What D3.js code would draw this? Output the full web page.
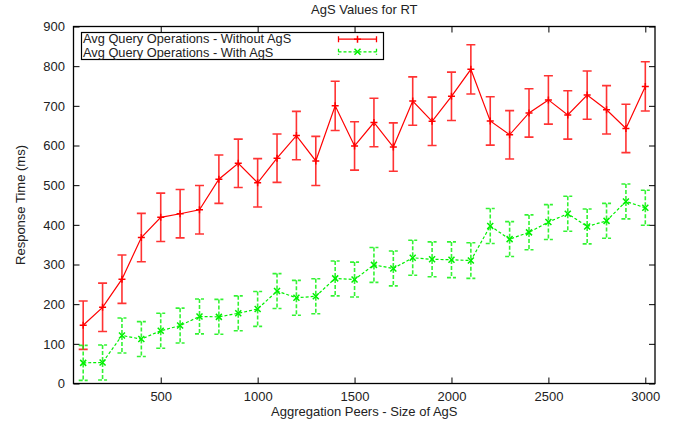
<!DOCTYPE html>
<html>
<head>
<meta charset="utf-8">
<script src="https://cdn.jsdelivr.net/npm/d3@7"></script>
<style>
  body { margin: 0; background: #fff; }
  svg text { font-family: "Liberation Sans", Arial, Helvetica, sans-serif; fill: #222; }
</style>
</head>
<body>
<svg id="chart" width="675" height="424"></svg>
<script>
// Data
const peers = [100, 200, 300, 400, 500, 600, 700, 800, 900, 1000,
               1100, 1200, 1300, 1400, 1500, 1600, 1700, 1800, 1900, 2000,
               2100, 2200, 2300, 2400, 2500, 2600, 2700, 2800, 2900, 3000];

const withoutAgs = [147, 192, 263, 368, 419, 428, 438, 515, 555, 506,
                    568, 625, 561, 700, 599, 658, 596, 712, 661, 724,
                    792, 662, 627, 682, 715, 677, 727, 690, 643, 749];
const withoutAgsErr = [61, 61, 61, 61, 61, 61, 61, 61, 61, 61,
                       61, 61, 62, 62, 61, 61, 61, 61, 61, 61,
                       62, 61, 61, 61, 61, 61, 61, 61, 61, 62];

const withAgs = [52, 53, 121, 112, 133, 146, 169, 168, 177, 188,
                 233, 216, 220, 265, 262, 299, 290, 317, 313, 312,
                 310, 397, 364, 381, 407, 428, 396, 410, 459, 443];
const withAgsErr = [44, 44, 44, 44, 44, 44, 44, 44, 44, 44,
                    44, 44, 44, 44, 44, 44, 44, 44, 44, 45,
                    45, 44, 44, 44, 44, 44, 44, 44, 44, 44];

const xTicks = [500, 1000, 1500, 2000, 2500, 3000];
const yTicks = [0, 100, 200, 300, 400, 500, 600, 700, 800, 900];

const series = [
    { name: "Avg Query Operations - Without AgS", values: withoutAgs, err: withoutAgsErr,
      color: "#ff0000", dash: null, marker: "plus" },
    { name: "Avg Query Operations - With AgS", values: withAgs, err: withAgsErr,
      color: "#00f000", dash: "3,2", marker: "cross" }
];

// Layout
const plot = { left: 73.5, top: 26.5, right: 655, bottom: 383.5 };
const fontSize = 13;
const svg = d3.select("#chart");

const x = d3.scaleLinear().domain([50, 3050]).range([plot.left, plot.right]);
const y = d3.scaleLinear().domain([0, 900]).range([plot.bottom, plot.top]);

// Title
svg.append("text")
    .attr("x", (plot.left + plot.right) / 2)
    .attr("y", 13.5)
    .attr("text-anchor", "middle")
    .attr("font-size", fontSize)
    .text("AgS Values for RT");

// Axes with inward ticks, mirrored on top and right
const tickLen = 6;
svg.append("g")
    .attr("transform", `translate(0,${plot.bottom})`)
    .call(d3.axisBottom(x).tickValues(xTicks).tickFormat(d3.format("d"))
        .tickSizeInner(-tickLen).tickSizeOuter(0).tickPadding(8))
    .call(g => g.select(".domain").remove())
    .call(g => g.selectAll("text").attr("font-size", fontSize).attr("fill", "#222"));

svg.append("g")
    .attr("transform", `translate(0,${plot.top})`)
    .call(d3.axisTop(x).tickValues(xTicks).tickSizeInner(-tickLen).tickSizeOuter(0).tickFormat(""))
    .call(g => g.select(".domain").remove());

svg.append("g")
    .attr("transform", `translate(${plot.left},0)`)
    .call(d3.axisLeft(y).tickValues(yTicks).tickFormat(d3.format("d"))
        .tickSizeInner(-tickLen).tickSizeOuter(0).tickPadding(8.5))
    .call(g => g.select(".domain").remove())
    .call(g => g.selectAll("text").attr("font-size", fontSize).attr("fill", "#222"));

svg.append("g")
    .attr("transform", `translate(${plot.right},0)`)
    .call(d3.axisRight(y).tickValues(yTicks).tickSizeInner(-tickLen).tickSizeOuter(0).tickFormat(""))
    .call(g => g.select(".domain").remove());

svg.selectAll(".tick line").attr("stroke", "#000").attr("stroke-width", 1);

// Frame
svg.append("rect")
    .attr("x", plot.left)
    .attr("y", plot.top)
    .attr("width", plot.right - plot.left)
    .attr("height", plot.bottom - plot.top)
    .attr("fill", "none")
    .attr("stroke", "#000")
    .attr("stroke-width", 1.3);

// Axis labels
svg.append("text")
    .attr("x", (plot.left + plot.right) / 2)
    .attr("y", 415.5)
    .attr("text-anchor", "middle")
    .attr("font-size", fontSize)
    .text("Aggregation Peers - Size of AgS");

svg.append("text")
    .attr("transform", `translate(25,${(plot.top + plot.bottom) / 2}) rotate(-90)`)
    .attr("text-anchor", "middle")
    .attr("font-size", fontSize)
    .text("Response Time (ms)");

// Marker drawing helper
function drawMarker(g, cx, cy, kind, color) {
    const s = kind === "plus" ? 3.5 : 3;
    const path = kind === "plus"
        ? `M${cx - s},${cy}H${cx + s}M${cx},${cy - s}V${cy + s}`
        : `M${cx - s},${cy - s}L${cx + s},${cy + s}M${cx - s},${cy + s}L${cx + s},${cy - s}`;
    g.append("path")
        .attr("d", path)
        .attr("stroke", color)
        .attr("stroke-width", 1.5)
        .attr("fill", "none");
}

const capHalf = 4.5;
const line = d3.line().x(d => x(d.p)).y(d => y(d.v));

series.forEach(s => {
    const pts = peers.map((p, i) => ({ p, v: s.values[i], e: s.err[i] }));
    const g = svg.append("g");

    // Error bars
    pts.forEach(d => {
        const cx = x(d.p);
        const y1 = y(d.v + d.e);
        const y2 = y(d.v - d.e);
        g.append("path")
            .attr("d", `M${cx},${y1}V${y2}M${cx - capHalf},${y1}H${cx + capHalf}M${cx - capHalf},${y2}H${cx + capHalf}`)
            .attr("stroke", s.color)
            .attr("stroke-width", 1.6)
            .attr("stroke-opacity", 0.8)
            .attr("stroke-dasharray", s.dash ? "4,2" : null)
            .attr("fill", "none");
    });

    // Line
    g.append("path")
        .datum(pts)
        .attr("d", line)
        .attr("fill", "none")
        .attr("stroke", s.color)
        .attr("stroke-width", 1.2)
        .attr("stroke-dasharray", s.dash);

    // Markers
    pts.forEach(d => drawMarker(g, x(d.p), y(d.v), s.marker, s.color));
});

// Legend
const legend = { x: 81.5, y: 32.5, w: 302, h: 27 };
svg.append("rect")
    .attr("x", legend.x)
    .attr("y", legend.y)
    .attr("width", legend.w)
    .attr("height", legend.h)
    .attr("fill", "#fff")
    .attr("stroke", "#000")
    .attr("stroke-width", 1.2);

series.forEach((s, i) => {
    svg.append("text")
        .attr("x", legend.x + 1.5)
        .attr("y", 42.6 + i * 14.3)
        .attr("font-size", 12.8)
        .text(s.name);

    const ly = 39.2 + i * 12.6;
    const x1 = 338.5, x2 = 376.5, xm = (x1 + x2) / 2;
    svg.append("path")
        .attr("d", `M${x1},${ly}H${x2}M${x1},${ly - 3}V${ly + 3}M${x2},${ly - 3}V${ly + 3}`)
        .attr("stroke", s.color)
        .attr("stroke-width", 1.3)
        .attr("stroke-dasharray", s.dash)
        .attr("fill", "none");
    drawMarker(svg, xm, ly, s.marker, s.color);
});
</script>
</body>
</html>
